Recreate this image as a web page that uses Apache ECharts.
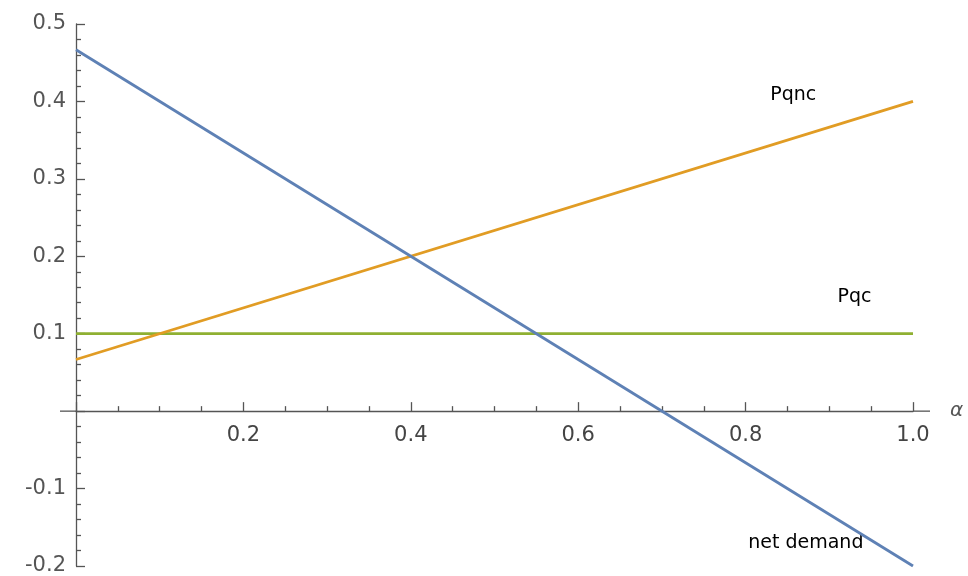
<!DOCTYPE html>
<html>
<head>
<meta charset="utf-8">
<script src="https://cdn.jsdelivr.net/npm/echarts@6/dist/echarts.min.js"></script>
<style>html,body{margin:0;padding:0;background:#fff;}#c{width:968px;height:576px;}</style>
</head>
<body>
<div id="c"></div>
<script>
// Data
var alphaPts = [0, 1.0];
var netDemand = [0.4667, -0.2];
var pqnc = [0.0667, 0.4];
var pqc = [0.1, 0.1];
var xTicks = [0.2, 0.4, 0.6, 0.8, 1.0];
var yTicks = [-0.2, -0.1, 0.1, 0.2, 0.3, 0.4, 0.5];
var labelNames = ['Pqnc', 'Pqc', 'net demand'];
var labelX = [0.857, 0.93, 0.872];
var labelY = [0.408, 0.147, -0.171];

function pairs(xs, ys) { return xs.map(function (x, i) { return [x, ys[i]]; }); }

var chart = echarts.init(document.getElementById('c'));
var axisColor = '#555';
var font = 'DejaVu Sans';
chart.setOption({
  animation: false,
  backgroundColor: '#fff',
  grid: { left: 76, right: 55, top: 24, bottom: 10, containLabel: false, outerBoundsMode: 'none' },
  xAxis: {
    type: 'value', min: 0, max: 1, interval: 0.2,
    name: 'α', nameLocation: 'end', nameGap: 37,
    nameTextStyle: { color: axisColor, fontFamily: font, fontSize: 20, fontStyle: 'italic' },
    axisLine: { onZero: true, lineStyle: { color: axisColor, width: 1.3 } },
    axisTick: { inside: true, length: 9, lineStyle: { color: axisColor, width: 1.3 } },
    minorTick: { show: true, splitNumber: 4, length: 5, lineStyle: { color: axisColor, width: 1.3 } },
    splitLine: { show: false },
    axisLabel: { show: false }
  },
  yAxis: {
    type: 'value', min: -0.2, max: 0.5, interval: 0.1,
    axisLine: { onZero: true, lineStyle: { color: axisColor, width: 1.3 } },
    axisTick: { inside: true, length: 9, lineStyle: { color: axisColor, width: 1.3 } },
    minorTick: { show: true, splitNumber: 5, length: 5, lineStyle: { color: axisColor, width: 1.3 } },
    splitLine: { show: false },
    axisLabel: {
      color: axisColor, fontFamily: font, fontSize: 21, margin: 10,
      formatter: function (v) { return yTicks.some(function (t) { return Math.abs(t - v) < 1e-9; }) ? v.toFixed(1) : ''; }
    }
  },
  series: [
    { type: 'line', name: 'net demand', data: pairs(alphaPts, netDemand), showSymbol: false,
      lineStyle: { color: '#5E81B5', width: 2.8 }, z: 3 },
    { type: 'line', name: 'Pqnc', data: pairs(alphaPts, pqnc), showSymbol: false,
      lineStyle: { color: '#E19C24', width: 2.8 }, z: 2 },
    { type: 'line', name: 'Pqc', data: pairs(alphaPts, pqc), showSymbol: false,
      lineStyle: { color: '#8FB032', width: 2.8 }, z: 1 },
    { type: 'scatter', symbolSize: 0, silent: true, itemStyle: { opacity: 1 },
      data: labelNames.map(function (n, i) { return { name: n, value: [labelX[i], labelY[i]] }; }),
      label: { show: true, position: 'inside', formatter: '{b}', color: '#000', opacity: 1, fontFamily: font, fontSize: 19 } },
    // x tick labels, placed on the zero line through the axis scale
    { type: 'scatter', symbolSize: 0, silent: true, itemStyle: { opacity: 1 },
      data: xTicks.map(function (t) { return { name: t.toFixed(1), value: [t, 0] }; }),
      label: { show: true, position: 'bottom', distance: 14, formatter: '{b}', color: '#444', opacity: 1, fontFamily: font, fontSize: 21 } }
  ]
});

// extend x axis line slightly beyond the plot range like the reference
var p0 = chart.convertToPixel({ gridIndex: 0 }, [0, 0]);
var p1 = chart.convertToPixel({ gridIndex: 0 }, [1, 0]);
chart.setOption({
  graphic: [
    { type: 'line', shape: { x1: p0[0] - 16, y1: p0[1], x2: p0[0], y2: p0[1] }, style: { stroke: axisColor, lineWidth: 1.3 } },
    { type: 'line', shape: { x1: p1[0], y1: p1[1], x2: p1[0] + 17, y2: p1[1] }, style: { stroke: axisColor, lineWidth: 1.3 } }
  ]
});
</script>
</body>
</html>
